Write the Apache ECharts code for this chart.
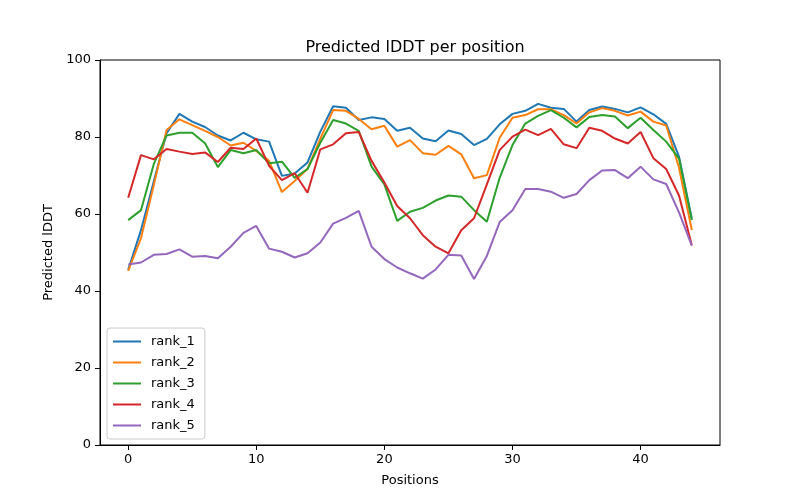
<!DOCTYPE html>
<html>
<head>
<meta charset="utf-8">
<script src="https://cdn.jsdelivr.net/npm/echarts@6/dist/echarts.min.js"></script>
<style>html,body{margin:0;padding:0;background:#fff}#c{width:800px;height:500px}</style>
</head>
<body>
<div id="c"></div>
<script>
const positions = Array.from({length: 45}, (_, i) => i);
const rank_1 = [45.5,55.8,68.5,81.0,86.0,84.0,82.6,80.4,79.1,81.1,79.4,78.8,69.9,70.5,73.4,81.4,88.0,87.6,84.4,85.1,84.7,81.6,82.4,79.6,78.9,81.7,80.8,77.9,79.5,83.3,86.0,86.8,88.6,87.6,87.3,84.0,87.0,87.9,87.3,86.4,87.7,85.9,83.4,74.9,58.8];
const rank_2 = [45.2,53.7,67.5,81.8,84.6,83.1,81.6,80.0,77.8,78.5,76.4,73.8,65.7,68.6,71.7,79.6,87.0,86.8,84.7,82.0,82.9,77.5,79.2,75.8,75.4,77.7,75.5,69.3,70.1,79.8,85.0,85.7,87.2,87.2,85.7,83.5,86.4,87.5,86.8,85.6,86.6,84.0,83.0,72.0,55.8];
const rank_3 = [58.4,61.0,73.0,80.4,81.1,81.1,78.4,72.2,76.6,75.8,76.6,73.2,73.6,69.4,71.7,78.5,84.4,83.5,81.6,72.3,67.7,58.2,60.6,61.6,63.5,64.8,64.5,61.0,58.0,69.4,77.9,83.5,85.5,87.0,85.0,82.5,85.2,85.7,85.3,82.3,85.0,81.8,78.8,74.4,58.4];
const rank_4 = [64.2,75.3,74.2,76.9,76.2,75.6,76.0,73.5,77.2,76.9,79.6,72.5,68.8,70.6,65.5,76.8,78.1,81.0,81.3,73.8,68.2,62.1,58.9,54.5,51.5,49.8,55.8,58.9,67.7,76.6,80.1,81.9,80.5,82.1,78.1,77.1,82.4,81.6,79.6,78.3,81.3,74.5,71.7,64.8,51.9];
const rank_5 = [46.9,47.4,49.4,49.6,50.8,48.9,49.1,48.5,51.5,55.1,56.9,51.0,50.2,48.7,49.8,52.6,57.5,59.0,60.8,51.5,48.3,46.1,44.6,43.2,45.6,49.4,49.2,43.1,49.1,57.9,61.0,66.5,66.5,65.8,64.2,65.2,68.8,71.3,71.4,69.3,72.3,69.0,67.8,60.4,51.8];
const seriesNames = ['rank_1','rank_2','rank_3','rank_4','rank_5'];
const seriesData = [rank_1, rank_2, rank_3, rank_4, rank_5];
const colors = ['#1f77b4','#ff7f0e','#2ca02c','#d62728','#9467bd'];
const xTicks = [0,10,20,30,40];

const font = 'DejaVu Sans';
const chart = echarts.init(document.getElementById('c'), null, {renderer: 'canvas'});
chart.setOption({
  animation: false,
  backgroundColor: '#fff',
  title: {
    text: 'Predicted lDDT per position',
    left: 410, top: 35, textAlign: 'center',
    textStyle: {fontFamily: font, fontSize: 16, fontWeight: 'normal', color: '#000'}
  },
  grid: {left: 100, right: 80, top: 60, bottom: 55, show: true, borderColor: '#000', borderWidth: 1, backgroundColor: 'transparent'},
  legend: {
    orient: 'vertical', left: 107, top: 328,
    data: seriesNames.map((n, i) => ({name: n, icon: 'rect', itemStyle: {color: colors[i]}})),
    itemWidth: 28, itemHeight: 2, itemGap: 8,
    padding: [7, 10, 7, 6],
    backgroundColor: 'rgba(255,255,255,0.8)', borderColor: '#cccccc', borderWidth: 1, borderRadius: 3,
    textStyle: {fontFamily: font, fontSize: 13, color: '#000', padding: [0, 0, 0, 5]}
  },
  xAxis: {
    type: 'value', min: -2.2, max: 46.2,
    name: 'Positions', nameLocation: 'middle', nameGap: 29,
    nameTextStyle: {fontFamily: font, fontSize: 13, color: '#000'},
    axisLine: {show: true, onZero: false, lineStyle: {color: '#000', width: 1}},
    axisTick: {show: true, inside: false, length: 5, customValues: xTicks, lineStyle: {color: '#000'}},
    axisLabel: {customValues: xTicks, margin: 8, fontFamily: font, fontSize: 13, color: '#000'},
    splitLine: {show: false}
  },
  yAxis: {
    type: 'value', min: 0, max: 100, interval: 20,
    name: 'Predicted lDDT', nameLocation: 'middle', nameGap: 42,
    nameTextStyle: {fontFamily: font, fontSize: 13, color: '#000'},
    axisLine: {show: true, onZero: false, lineStyle: {color: '#000', width: 1}},
    axisTick: {show: true, inside: false, length: 5, lineStyle: {color: '#000'}},
    axisLabel: {margin: 9, fontFamily: font, fontSize: 13, color: '#000'},
    splitLine: {show: false}
  },
  series: seriesNames.map((n, i) => ({
    name: n, type: 'line',
    data: positions.map((p, j) => [p, seriesData[i][j]]),
    showSymbol: false, symbol: 'none',
    lineStyle: {color: colors[i], width: 2},
    itemStyle: {color: colors[i]},
    z: 2 + i
  }))
});
</script>
</body>
</html>
